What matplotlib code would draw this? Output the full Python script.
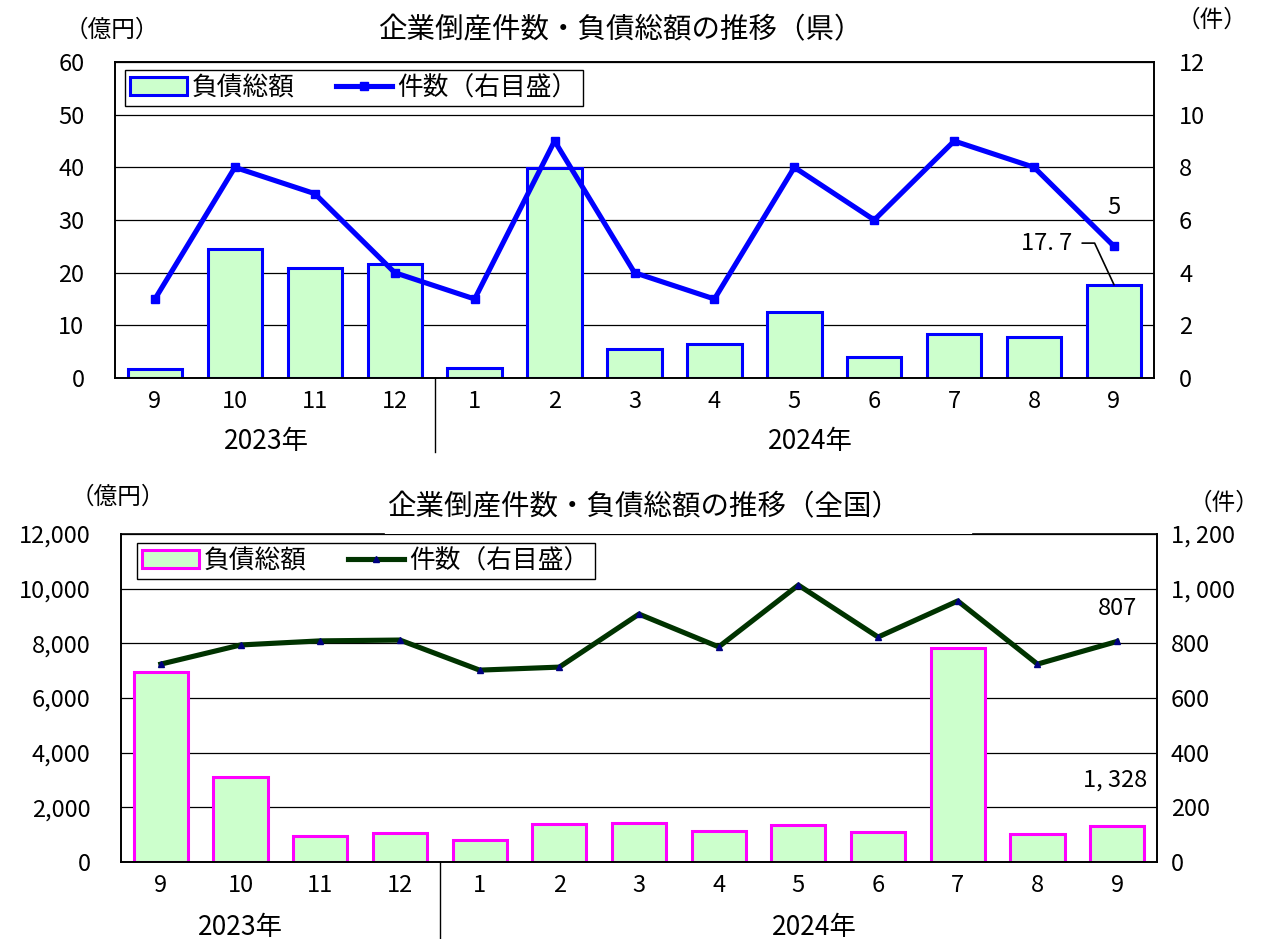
import matplotlib
matplotlib.use('Agg')
import matplotlib.pyplot as plt
from matplotlib.patches import Patch
from matplotlib.lines import Line2D
from matplotlib.ticker import FuncFormatter

plt.rcParams['font.family'] = ['Noto Sans CJK JP', 'DejaVu Sans']

# data
months = ['9', '10', '11', '12', '1', '2', '3', '4', '5', '6', '7', '8', '9']
years = ['2023年', '2024年']
pref_debt = [1.7, 24.5, 20.9, 21.6, 1.9, 39.8, 5.5, 6.4, 12.5, 4.0, 8.3, 7.8, 17.7]
pref_count = [3, 8, 7, 4, 3, 9, 4, 3, 8, 6, 9, 8, 5]
nat_debt = [6950, 3110, 950, 1060, 805, 1390, 1430, 1135, 1355, 1100, 7830, 1025, 1328]
nat_count = [724, 794, 809, 812, 702, 713, 907, 787, 1013, 823, 955, 724, 807]

W, H = 1261, 939
fig = plt.figure(figsize=(W / 100, H / 100), dpi=100)
x = list(range(len(months)))


def panel(box, debt, count, ymax, ystep, rmax, rstep, edge, lc, mk, mfc, msz,
          lfmt, rfmt, yr_pos, sep_len, ylab_y, rlab):
    l, t, r, b = box
    ax = fig.add_axes([l / W, 1 - b / H, (r - l) / W, (b - t) / H])
    axr = ax.twinx()
    ax.bar(x, debt, width=0.68, color='#CCFFCC', edgecolor=edge, linewidth=2.2, zorder=2)
    ax.set_xlim(-0.5, len(months) - 0.5)
    ax.set_ylim(0, ymax)
    ax.set_yticks(range(0, ymax + 1, ystep))
    ax.yaxis.set_major_formatter(FuncFormatter(lfmt))
    ax.grid(axis='y', color='black', lw=0.9)
    ax.set_axisbelow(True)
    ax.set_xticks(x)
    ax.set_xticklabels(months, fontsize=17)
    ax.tick_params(axis='x', length=0, pad=9)
    ax.tick_params(axis='y', length=0, labelsize=17, pad=22)
    axr.plot(x, count, color=lc, lw=3.7, marker=mk, ms=msz, mfc=mfc, mec=mfc, zorder=3)
    axr.set_ylim(0, rmax)
    axr.set_yticks(range(0, rmax + 1, rstep))
    axr.yaxis.set_major_formatter(FuncFormatter(rfmt))
    axr.tick_params(axis='y', length=0, labelsize=17, pad=rlab[2])
    for a in (ax, axr):
        for s in a.spines.values():
            s.set_linewidth(1.2)
    # month separator and year labels
    ax.plot([3.5, 3.5], [0, -sep_len], transform=ax.get_xaxis_transform(),
            color='black', lw=1, clip_on=False)
    for pos, yl in zip(yr_pos, years):
        ax.text(pos, -0.2, yl, transform=ax.get_xaxis_transform(),
                ha='center', va='center', fontsize=19)
    ax.text(-0.003, ylab_y, '（億円）', transform=ax.transAxes, ha='center', va='center', fontsize=17)
    axr.text(rlab[0], rlab[1], '（件）', transform=ax.transAxes, ha='center', va='center', fontsize=17)
    handles = [Patch(facecolor='#CCFFCC', edgecolor=edge, linewidth=2.2),
               Line2D([], [], color=lc, lw=3.7, marker=mk, ms=msz, mfc=mfc, mec=mfc)]
    return ax, axr, handles


legend_kw = dict(loc='upper left', ncol=2, borderaxespad=0, fontsize=18.5,
                 fancybox=False, edgecolor='black', framealpha=1, handlelength=2.2,
                 handletextpad=0.2, columnspacing=1.6, borderpad=0.2)

# 県
ax1, ax1r, h1 = panel((115, 62, 1154, 378), pref_debt, pref_count, 60, 10, 12, 2,
                      '#0000FF', '#0000FF', 's', '#0000FF', 6,
                      lambda v, p: f'{v:.0f}', lambda v, p: f'{v:.0f}',
                      [1.4, 8.2], 0.235, 1.10, (1.056, 1.133, 18))
fig.text(620 / W, 1 - 30 / H, '企業倒産件数・負債総額の推移（県）', ha='center', va='center', fontsize=20.5)
leg1 = ax1r.legend(h1, ['負債総額', '件数（右目盛）'], bbox_to_anchor=(0.0096, 0.975), **legend_kw)
leg1.get_frame().set_linewidth(1.0)
ax1r.annotate(str(pref_count[-1]), (12, pref_count[-1]), xytext=(0, 28), textcoords='offset points',
              ha='center', va='center', fontsize=17)
ax1.annotate('17. 7', (12, pref_debt[-1]), xytext=(-30, 30), textcoords='offset points',
             ha='right', va='center', fontsize=17,
             arrowprops=dict(arrowstyle='-', color='black', lw=1.2, shrinkA=5, shrinkB=0,
                             connectionstyle='angle,angleA=0,angleB=115,rad=0'))

# 全国
ax2, ax2r, h2 = panel((121, 534, 1157, 862), nat_debt, nat_count, 12000, 2000, 1200, 200,
                      '#FF00FF', '#003300', '^', '#000080', 5,
                      lambda v, p: f'{v:,.0f}', lambda v, p: f'{v:,.0f}'.replace(',', ', '),
                      [1.0, 8.2], 0.25, 1.113, (1.065, 1.094, 10))
fig.text(644 / W, 1 - 507 / H, '企業倒産件数・負債総額の推移（全国）', ha='center', va='center', fontsize=20.5)
for a in (ax2, ax2r):
    a.spines['top'].set_visible(False)
ax2.plot([0, (384 - 121) / 1036], [1, 1], transform=ax2.transAxes, color='black', lw=1.2, clip_on=False)
ax2.plot([(973 - 121) / 1036, 1], [1, 1], transform=ax2.transAxes, color='black', lw=1.2, clip_on=False)
leg2 = ax2r.legend(h2, ['負債総額', '件数（右目盛）'], bbox_to_anchor=(0.0154, 0.9726), **legend_kw)
leg2.get_frame().set_linewidth(1.0)
ax2r.annotate(str(nat_count[-1]), (12, nat_count[-1]), xytext=(0, 24), textcoords='offset points',
              ha='center', va='center', fontsize=17)
ax2.annotate('1, 328', (12, nat_debt[-1]), xytext=(22, 33), textcoords='offset points',
             ha='right', va='center', fontsize=17)

fig.savefig('out.png', dpi=100)
